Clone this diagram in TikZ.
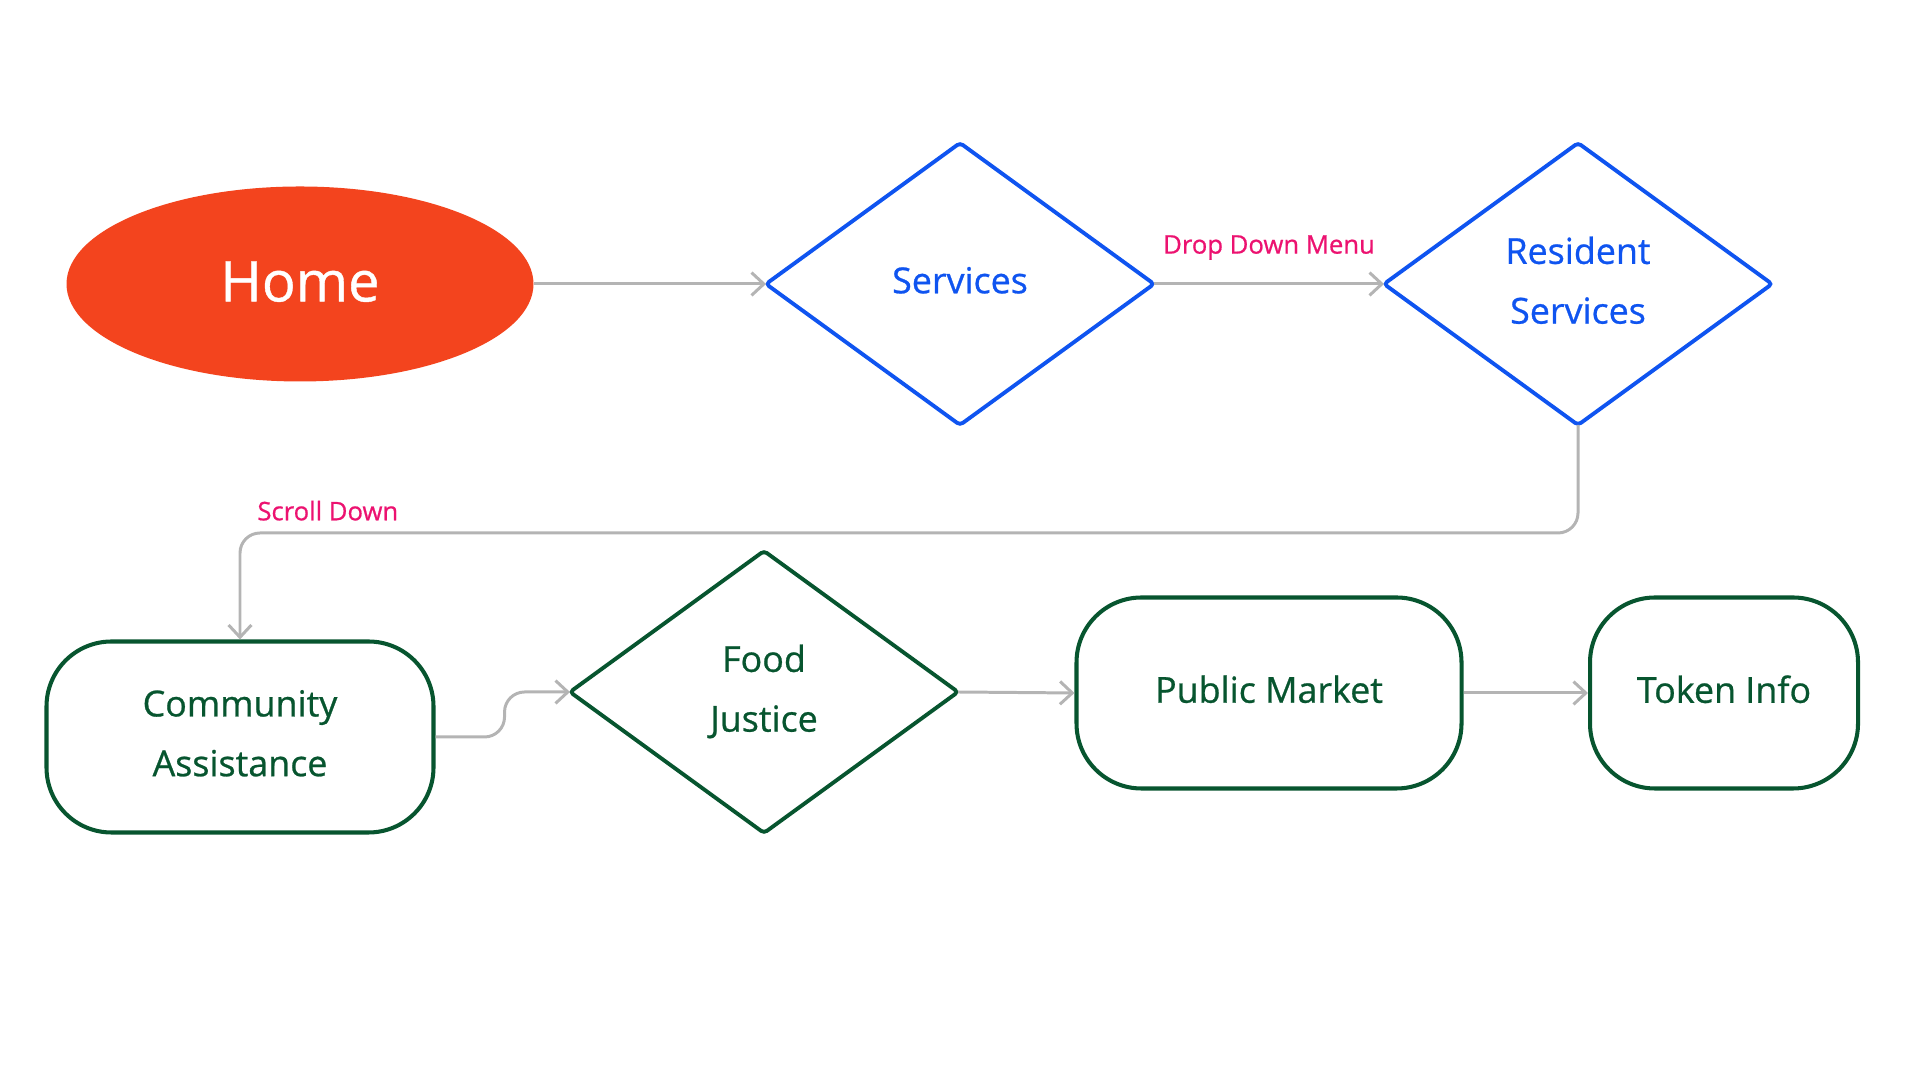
\documentclass[tikz,border=0pt]{standalone}
\usepackage{fontspec}
\setmainfont{Open Sans}[FakeBold=0.7]
\usetikzlibrary{shapes.geometric, arrows.meta, positioning}
\definecolor{homeRed}{HTML}{F3441E}
\definecolor{navBlue}{HTML}{0F54F0}
\definecolor{pathGreen}{HTML}{07552F}
\definecolor{noteRed}{HTML}{EC1270}
\definecolor{lineGray}{HTML}{B4B4B4}

\begin{document}
\begin{tikzpicture}[
	el/.style = {ellipse, fill=homeRed, text=white, minimum width=4.67cm, minimum height=1.95cm, inner sep=0pt, text depth=0.15em, font=\fontsize{16}{19}\selectfont},
	dm/.style = {diamond, draw=#1, text=#1, line width=1.1pt, rounded corners=1pt, minimum width=3.88cm, minimum height=2.82cm, inner sep=0pt, outer sep=0pt, align=center, text depth=0.22em, font=\fontsize{10.2}{17}\selectfont},
	bx/.style = {rectangle, draw=pathGreen, text=pathGreen, line width=1.15pt, rounded corners=0.65cm, minimum height=1.91cm, align=center, text depth=0.22em, font=\fontsize{10.2}{17}\selectfont},
	r/.style = {-{Straight Barb[length=3.5pt,width=6.5pt]}, draw=lineGray, line width=0.85pt, rounded corners=0.2cm},
	lb/.style = {text=noteRed, font=\fontsize{7.3}{9}\selectfont}
	]
	\useasboundingbox (0,0) rectangle (19.2,10.8);

	%Nodes
	\node[el]	(home)	at	(3.00, 7.96)	{Home};
	\node[dm=navBlue]	(serv)	at	(9.60, 7.96)	{Services};
	\node[dm=navBlue]	(resid)	at	(15.78, 7.96)	{Resident\\Services};
	\node[bx, minimum width=3.87cm]	(comm)	at	(2.40, 3.43)	{Community\\Assistance};
	\node[dm=pathGreen]	(food)	at	(7.64, 3.88)	{Food\\Justice};
	\node[bx, minimum width=3.85cm]	(market)	at	(12.69, 3.87)	{Public Market};
	\node[bx, minimum width=2.68cm]	(token)	at	(17.24, 3.87)	{Token Info};
	\coordinate	(turn)	at	(2.40, 5.47);

	%Labels
	\node[lb, above right=0cm and 0.05cm of turn]	(scroll)	{Scroll Down};

	%Lines
	\draw[r]	(home.east)	to	(serv.west);
	\draw[r]	(serv.east)	to	node[lb, above=0.11cm]	{Drop Down Menu}	(resid.west);
	\draw[r]	(resid.south)	|-	(turn)	--	(comm.north);
	\draw[r]	(comm.east)	--	++(0.69, 0)	|-	(food.west);
	\draw[r]	(food.east)	to	(market.west);
	\draw[r]	(market.east)	to	(token.west);

\end{tikzpicture}
\end{document}
